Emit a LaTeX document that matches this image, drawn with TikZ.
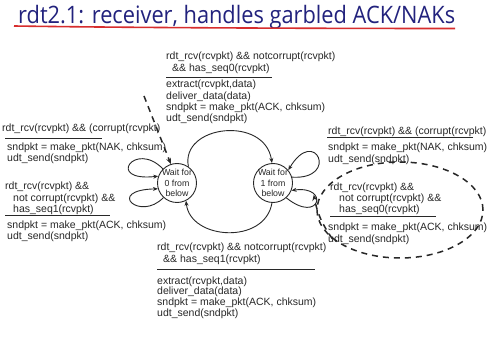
\documentclass[tikz,border=0pt]{standalone}
\usepackage{fontspec}
\usepackage{graphicx}
\setmainfont{Liberation Sans}
\newfontfamily\titlefont{Open Sans}
\usetikzlibrary{arrows.meta,shapes.geometric}
\definecolor{titleblue}{RGB}{34,34,125}
\definecolor{ulred}{RGB}{215,45,45}
\definecolor{ink}{RGB}{40,40,40}
\begin{document}
\begin{tikzpicture}[x=1pt,y=-1pt,
  txt/.style={anchor=north west, inner sep=0pt, align=left, text=ink, font=\fontsize{10.5}{11.3}\selectfont},
  rulel/.style={draw=ink, line width=1pt},
  state/.style={circle, draw=ink, line width=0.9pt, minimum size=39pt, inner sep=0pt},
  statetext/.style={align=center, inner sep=0pt, text=ink, font=\fontsize{8.8}{10.5}\selectfont},
  arr/.style={draw=ink, line width=0.9pt, -{Stealth[length=5pt,width=4pt]}},
  dsh/.style={draw=ink, line width=1.5pt, dash pattern=on 6pt off 5pt},
  hlell/.style={ellipse, dsh, minimum width=166pt, minimum height=96pt, inner sep=0pt}]
\useasboundingbox (0,0) rectangle (490,339);
\fill[white] (0,0) rectangle (490,339);

% title
\node[anchor=base west, inner sep=0pt, text=titleblue] (title) at (18,24)
  {\resizebox{437pt}{\height}{\titlefont\fontsize{24}{28}\selectfont rdt2.1: receiver, handles garbled ACK/NAKs}};
\draw[ulred, line width=1.6pt] (14,26) .. controls (150,28) and (350,28.5) .. (455,28.5);

% states
\node[state] (c0) at (177,183) {};
\node[statetext] (t0) at (c0) {Wait for\\0 from\\below};
\node[state] (c1) at (273,183) {};
\node[statetext] (t1) at (c1) {Wait for\\1 from\\below};

% top transition
\node[txt] (topc) at (166,52) {rdt\_rcv(rcvpkt) \&\& notcorrupt(rcvpkt)\\\hspace*{6pt}\&\& has\_seq0(rcvpkt)};
\draw[rulel] (166,78) -- (272,78);
\node[txt] (topa) at (166,80) {extract(rcvpkt,data)\\deliver\_data(data)\\sndpkt = make\_pkt(ACK, chksum)\\udt\_send(sndpkt)};

% left transitions
\node[txt] (l1c) at (2,123.5) {rdt\_rcv(rcvpkt) \&\& (corrupt(rcvpkt)};
\draw[rulel] (5,139) -- (102,139);
\node[txt] (l1a) at (7,142.5) {sndpkt = make\_pkt(NAK, chksum)\\udt\_send(sndpkt)};

\node[txt] (l2c) at (5,182) {rdt\_rcv(rcvpkt) \&\&\\\hspace*{8pt}not corrupt(rcvpkt) \&\&\\\hspace*{8pt}has\_seq1(rcvpkt)};
\draw[rulel] (5,216) -- (110,216);
\node[txt] (l2a) at (7,220.5) {sndpkt = make\_pkt(ACK, chksum)\\udt\_send(sndpkt)};

% right transitions
\node[txt] (r1c) at (328,127) {rdt\_rcv(rcvpkt) \&\& (corrupt(rcvpkt)};
\draw[rulel] (327,138) -- (473,138);
\node[txt] (r1a) at (328,143) {sndpkt = make\_pkt(NAK, chksum)\\udt\_send(sndpkt)};

\node[txt] (r2c) at (330,182.5) {rdt\_rcv(rcvpkt) \&\&\\\hspace*{9pt}not corrupt(rcvpkt) \&\&\\\hspace*{9pt}has\_seq0(rcvpkt)};
\draw[rulel] (330,217) -- (436,217);
\node[txt] (r2a) at (328,223) {sndpkt = make\_pkt(ACK, chksum)\\udt\_send(sndpkt)};

% bottom transition
\node[txt] (botc) at (157,243) {rdt\_rcv(rcvpkt) \&\& notcorrupt(rcvpkt)\\\hspace*{6pt}\&\& has\_seq1(rcvpkt)};
\draw[rulel] (157,269) -- (315,269);
\node[txt, font=\fontsize{10.5}{10.6}\selectfont] (bota) at (157,276.5) {extract(rcvpkt,data)\\deliver\_data(data)\\sndpkt = make\_pkt(ACK, chksum)\\udt\_send(sndpkt)};

% connectors
\draw[arr] (c0.55) .. controls (180,125) and (265,115) .. (c1.93);
\draw[arr] (c1.267) .. controls (265,245) and (190,240) .. (c0.297);
\draw[arr] (c0.135) .. controls (135,140) and (105,182) .. (c0.160);
\draw[arr] (c0.227) .. controls (140,222) and (105,190) .. (c0.197);
\draw[arr] (c1.17) .. controls (340,180) and (315,125) .. (c1.40);
\draw[arr] (c1.312) .. controls (320,225) and (330,185) .. (c1.338) coordinate[pos=0.7] (lp);

% dashed highlights
\coordinate (dl) at (144,96);
\draw[dsh, -{Stealth[length=6pt,width=5pt]}] (dl) -- (c0.108);
\node[hlell] (hl) at (400,210) {};
\draw[dsh, -{Stealth[length=6pt,width=5pt]}] (hl.203) to[bend left=12] (lp);
\end{tikzpicture}
\end{document}
